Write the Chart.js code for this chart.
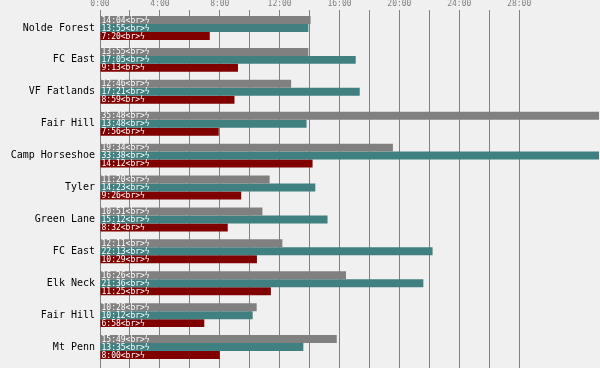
<!DOCTYPE html>
<html>
<head>
<meta charset="utf-8">
<script src="https://cdn.jsdelivr.net/npm/chart.js@4.4.1/dist/chart.umd.min.js"></script>
<style>
  html, body { margin: 0; padding: 0; background: #f0f0f0; }
  #wrap { width: 600px; height: 368px; }
</style>
</head>
<body>
<div id="wrap"><canvas id="chart" width="600" height="368"></canvas></div>
<script>
// race venues, top to bottom
var venues = ['Nolde Forest', 'FC East', 'VF Fatlands', 'Fair Hill', 'Camp Horseshoe',
  'Tyler', 'Green Lane', 'FC East', 'Elk Neck', 'Fair Hill', 'Mt Penn'];

// finish times (h:mm) for the three series
var timesGray = ['14:04', '13:55', '12:46', '35:48', '19:34', '11:20', '10:51', '12:11', '16:26', '10:28', '15:49'];
var timesTeal = ['13:55', '17:05', '17:21', '13:48', '33:38', '14:23', '15:12', '22:13', '21:36', '10:12', '13:35'];
var timesRed  = ['7:20', '9:13', '8:59', '7:56', '14:12', '9:26', '8:32', '10:29', '11:25', '6:58', '8:00'];

// axis: minutes, ticks every 2h, labels every 4h up to 28:00
var axisMax = 2000;
var tickStep = 120;
var lastGrid = 1680;

function toMinutes(t) {
  var p = t.split(':');
  return parseInt(p[0], 10) * 60 + parseInt(p[1], 10);
}
function fmt(m) {
  var h = Math.floor(m / 60), mm = m % 60;
  return h + ':' + (mm < 10 ? '0' : '') + mm;
}
function gridColor(c) {
  return c.tick && c.tick.value <= lastGrid ? '#808080' : 'rgba(0,0,0,0)';
}

var mono = 'DejaVu Sans Mono';

// draw "h:mm<br>ϟ" at the base of every bar
var barText = {
  id: 'barText',
  afterDatasetsDraw: function (chart) {
    var ctx = chart.ctx;
    ctx.save();
    ctx.font = '8px "' + mono + '"';
    ctx.fillStyle = '#ffffff';
    ctx.textAlign = 'left';
    ctx.textBaseline = 'middle';
    chart.data.datasets.forEach(function (ds, i) {
      chart.getDatasetMeta(i).data.forEach(function (bar, j) {
        ctx.fillText(ds.times[j] + '<br>\u03DF', bar.base + 1, bar.y + 0.5);
      });
    });
    ctx.restore();
  }
};

var ctx = document.getElementById('chart').getContext('2d');
new Chart(ctx, {
  type: 'bar',
  data: {
    labels: venues,
    datasets: [
      { data: timesGray.map(toMinutes), times: timesGray, backgroundColor: '#808080' },
      { data: timesTeal.map(toMinutes), times: timesTeal, backgroundColor: '#408080' },
      { data: timesRed.map(toMinutes), times: timesRed, backgroundColor: '#800000' }
    ]
  },
  options: {
    indexAxis: 'y',
    responsive: false,
    animation: false,
    layout: { padding: 0 },
    categoryPercentage: 0.75,
    barPercentage: 1,
    plugins: { legend: { display: false }, tooltip: { enabled: false } },
    scales: {
      x: {
        position: 'top',
        min: 0,
        max: axisMax,
        border: { display: false },
        grid: { color: gridColor, tickLength: 2 },
        ticks: {
          stepSize: tickStep,
          autoSkip: false,
          maxRotation: 0,
          padding: 1,
          color: '#808080',
          font: { family: mono, size: 8 },
          callback: function (v) { return (v % 240 === 0 && v <= lastGrid) ? fmt(v) : ''; }
        },
        afterFit: function (s) { s.height = 12; }
      },
      x2: {
        position: 'bottom',
        min: 0,
        max: axisMax,
        border: { display: false },
        grid: { drawOnChartArea: false, color: gridColor, tickLength: 5 },
        ticks: { display: false, stepSize: tickStep },
        afterFit: function (s) { s.height = 5; }
      },
      y: {
        border: { display: false },
        grid: { display: false, tickLength: 0 },
        ticks: {
          color: '#000000',
          padding: 5,
          font: { family: mono, size: 10 }
        },
        afterFit: function (s) {
          s.width = 100;
          s.paddingTop = 0;
          s.paddingBottom = 0;
        }
      }
    }
  },
  plugins: [barText]
});
</script>
</body>
</html>
